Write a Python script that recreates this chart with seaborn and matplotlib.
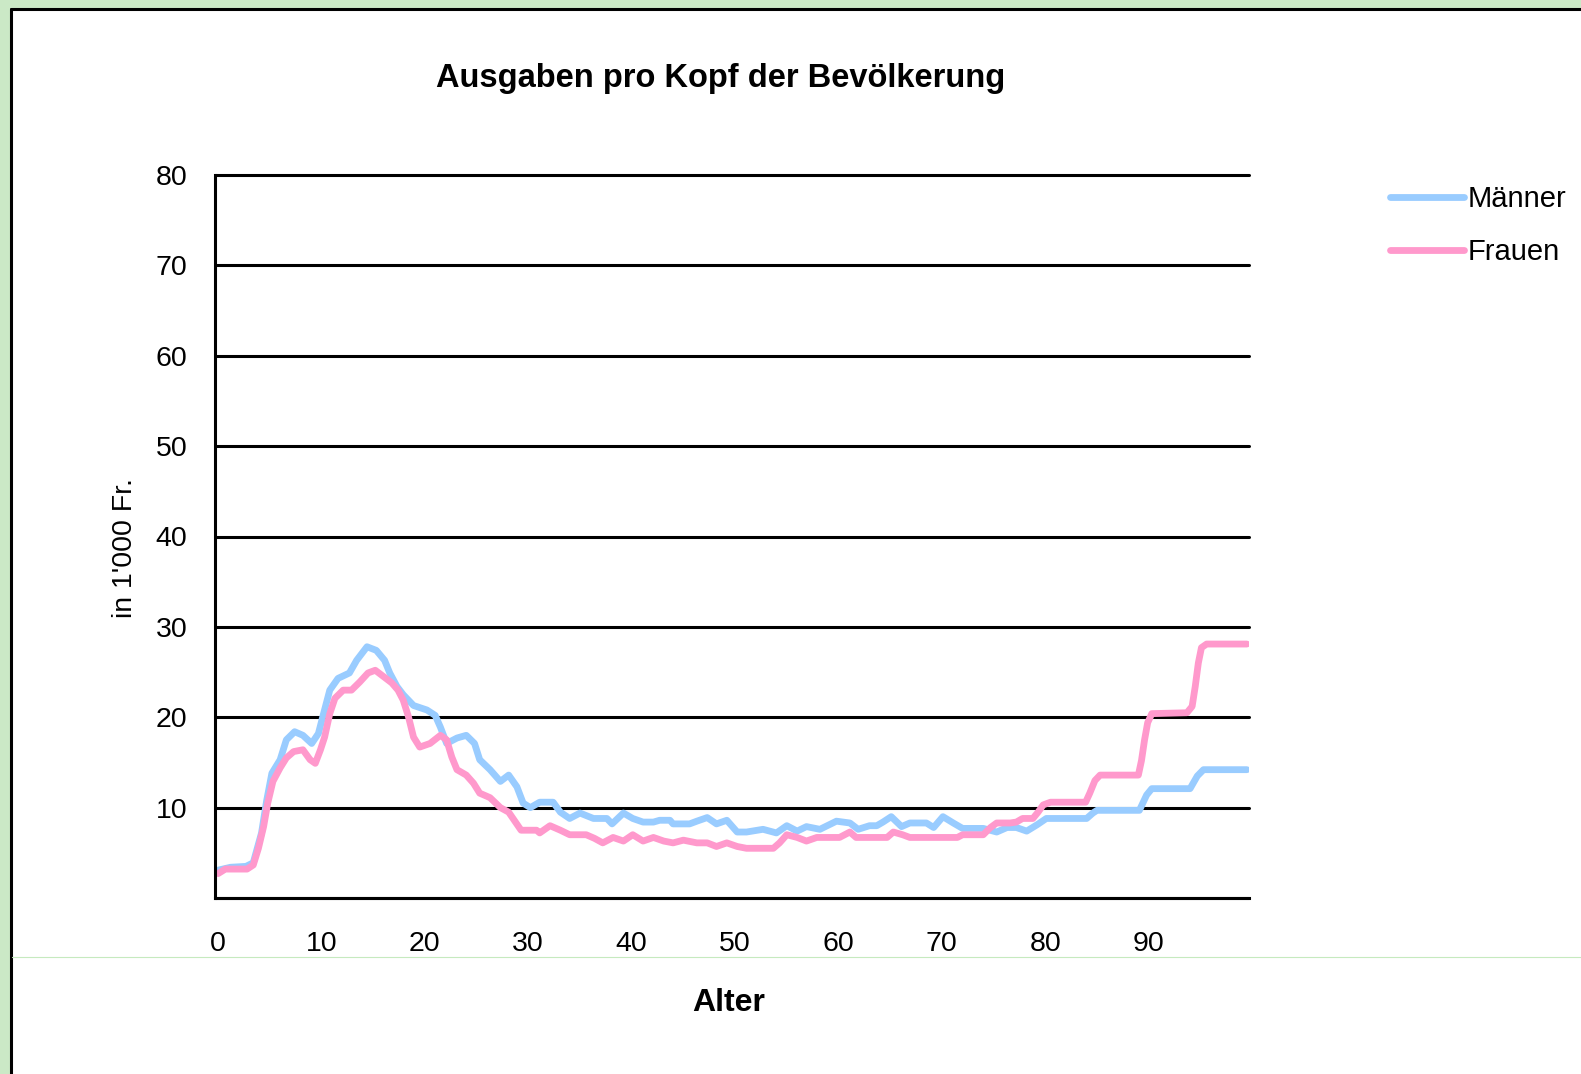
import matplotlib
matplotlib.use('Agg')
import matplotlib.pyplot as plt
from matplotlib.lines import Line2D
from matplotlib.patches import Rectangle
from matplotlib.transforms import ScaledTranslation
import pandas as pd
import seaborn as sns

# values (age, cost in 1'000 Fr.)
alter_m = [0, 1.5, 3.0, 3.7, 4.5, 5.0, 5.5, 6.3, 6.9, 7.7, 8.5, 9.35, 10.0, 10.5, 11.1, 11.9,
           13.0, 13.7, 14.7, 15.6, 16.4, 16.9, 17.6, 18.2, 19.2, 20.5, 21.3, 21.8, 22.4, 23.4,
           24.3, 25.1, 25.6, 26.6, 27.6, 28.4, 29.2, 29.8, 30.5, 31.4, 32.7, 33.4, 34.3, 35.3,
           36.6, 37.9, 38.4, 39.5, 40.4, 41.4, 42.4, 43.0, 44.0, 44.3, 45.9, 46.6, 47.6, 48.5,
           49.5, 50.5, 51.4, 53.0, 54.3, 55.3, 56.3, 57.2, 58.5, 60.1, 61.4, 62.2, 63.3, 64.0,
           64.6, 65.4, 66.4, 67.2, 68.8, 69.5, 70.4, 71.4, 72.3, 74.3, 75.6, 76.6, 77.5, 78.5,
           79.5, 80.4, 84.3, 84.9, 85.3, 89.4, 90.1, 90.6, 94.3, 95.0, 95.6, 99.8]
maenner = [3.0, 3.4, 3.5, 3.9, 7.2, 10.8, 13.8, 15.3, 17.5, 18.4, 18.0, 17.1, 18.2, 20.4, 23.0, 24.3,
           24.9, 26.3, 27.8, 27.4, 26.3, 24.9, 23.4, 22.5, 21.3, 20.8, 20.2, 18.9, 17.1, 17.7,
           18.0, 17.1, 15.3, 14.2, 12.9, 13.6, 12.3, 10.5, 10.0, 10.6, 10.6, 9.5, 8.8, 9.4,
           8.8, 8.8, 8.2, 9.4, 8.8, 8.4, 8.4, 8.6, 8.6, 8.2, 8.2, 8.5, 8.9, 8.2,
           8.6, 7.3, 7.3, 7.6, 7.2, 8.0, 7.4, 7.9, 7.6, 8.5, 8.3, 7.6, 8.0, 8.0,
           8.4, 9.0, 7.9, 8.3, 8.3, 7.8, 9.0, 8.3, 7.7, 7.7, 7.3, 7.8, 7.8, 7.4,
           8.1, 8.8, 8.8, 9.4, 9.7, 9.7, 11.4, 12.1, 12.1, 13.5, 14.2, 14.2]

alter_f = [0.3, 1.0, 3.1, 3.7, 4.2, 4.7, 5.1, 5.6, 6.3, 6.9, 7.6, 8.5, 9.2, 9.7, 10.2, 10.6,
           11.1, 11.6, 12.4, 13.2, 14.0, 14.8, 15.5, 16.3, 17.1, 17.7, 18.2, 18.7, 19.2, 19.8,
           20.8, 21.8, 22.4, 22.9, 23.4, 24.3, 25.0, 25.6, 26.6, 27.6, 28.4, 29.0, 29.6, 31.1,
           31.4, 32.4, 33.4, 34.3, 35.9, 36.7, 37.5, 38.5, 39.5, 40.4, 41.4, 42.4, 43.4, 44.3,
           45.3, 46.6, 47.6, 48.5, 49.5, 50.5, 51.4, 54.0, 54.6, 55.3, 56.3, 57.2, 58.2, 60.4,
           61.4, 62.0, 65.0, 65.6, 66.5, 67.2, 71.8, 72.3, 74.3, 75.0, 75.6, 76.9, 77.5, 78.1,
           79.1, 79.6, 80.1, 80.8, 84.2, 84.6, 85.1, 85.6, 89.3, 89.6, 89.9, 90.2, 90.6, 94.0,
           94.5, 94.8, 95.1, 95.4, 95.9, 99.8]
frauen = [2.7, 3.2, 3.2, 3.65, 5.5, 7.9, 10.5, 12.9, 14.4, 15.5, 16.2, 16.4, 15.3, 14.9, 16.4, 17.8,
          20.4, 22.1, 23.0, 23.0, 23.9, 24.9, 25.2, 24.5, 23.8, 23.0, 21.9, 20.1, 17.8, 16.7,
          17.1, 18.0, 17.5, 15.6, 14.2, 13.6, 12.7, 11.6, 11.1, 10.0, 9.5, 8.5, 7.5, 7.5,
          7.2, 8.0, 7.5, 7.0, 7.0, 6.6, 6.1, 6.7, 6.3, 7.0, 6.3, 6.7, 6.3, 6.1,
          6.4, 6.1, 6.1, 5.7, 6.1, 5.7, 5.5, 5.5, 6.1, 7.0, 6.7, 6.3, 6.7, 6.7,
          7.3, 6.7, 6.7, 7.3, 7.0, 6.7, 6.7, 7.0, 7.0, 7.8, 8.3, 8.3, 8.4, 8.8,
          8.8, 9.5, 10.3, 10.6, 10.6, 11.6, 13.0, 13.6, 13.6, 15.2, 17.5, 19.4, 20.4, 20.5,
          21.2, 23.4, 26.0, 27.7, 28.1, 28.1]

serien = ['Männer', 'Frauen']
farben = {'Männer': '#99ccff', 'Frauen': '#ff99cc'}

x_ticks = [0, 5, 10, 15, 20, 25, 30, 35, 40, 45, 50, 55, 60, 65, 70, 75, 80, 85, 90, 95, 100]
x_labels = ['0', '', '10', '', '20', '', '30', '', '40', '', '50', '', '60', '', '70', '', '80', '', '90', '', '']
y_ticks = [0, 10, 20, 30, 40, 50, 60, 70, 80]
y_labels = ['', '10', '20', '30', '40', '50', '60', '70', '80']

df = pd.concat([
    pd.DataFrame({'Alter': alter_m, 'Wert': maenner, 'Geschlecht': 'Männer'}),
    pd.DataFrame({'Alter': alter_f, 'Wert': frauen, 'Geschlecht': 'Frauen'}),
], ignore_index=True)

sns.set_style('white')
plt.rcParams['font.family'] = ['Liberation Sans', 'DejaVu Sans']
plt.rcParams['text.color'] = 'black'

W, H = 1581, 1074
fig = plt.figure(figsize=(W / 100, H / 100), dpi=100, facecolor='#cbe9c6')

# white chart area with the black frame at top and left
fig.add_artist(Rectangle((12 / W, 0), 1, 1 - 10 / H, transform=fig.transFigure,
                         facecolor='white', edgecolor='none', zorder=-2))
fig.add_artist(Line2D([11 / W, 11 / W], [0, 1 - 9 / H], transform=fig.transFigure, color='black', lw=2.2, zorder=-1))
fig.add_artist(Line2D([11 / W, 1], [1 - 9 / H, 1 - 9 / H], transform=fig.transFigure, color='black', lw=2.2, zorder=-1))
fig.add_artist(Line2D([12 / W, 1], [1 - 957 / H, 1 - 957 / H], transform=fig.transFigure, color='#c6eabf', lw=0.8, zorder=-1))

ax = fig.add_axes([215 / W, 1 - 898 / H, (1249 - 215) / W, (898 - 175) / H])
ax.set_facecolor('white')

sns.lineplot(data=df, x='Alter', y='Wert', hue='Geschlecht', hue_order=serien, palette=farben,
             estimator=None, sort=False, linewidth=4.9, legend=False, ax=ax)

ax.set_xlim(0, 100)
ax.set_ylim(0, 80)
ax.set_xticks(x_ticks)
ax.set_xticklabels(x_labels)
ax.set_yticks(y_ticks)
ax.set_yticklabels(y_labels)
ax.set_xlabel('')
ax.set_ylabel('')

ax.yaxis.grid(True, color='black', linewidth=2.2)
ax.xaxis.grid(False)
for gl in ax.get_ygridlines():
    gl.set_clip_on(False)
for side in ['top', 'right']:
    ax.spines[side].set_visible(False)
for side in ['left', 'bottom']:
    ax.spines[side].set_color('black')
    ax.spines[side].set_linewidth(2.2)
ax.tick_params(axis='both', direction='out', length=6.5, width=2.2, color='black',
               labelsize=20.5, labelcolor='black')
ax.tick_params(axis='y', pad=13.5)
ax.tick_params(axis='x', pad=17.5)
shift = ScaledTranslation(3 / 100, 0, fig.dpi_scale_trans)
for lbl in ax.get_xticklabels():
    lbl.set_transform(lbl.get_transform() + shift)

fig.text(721 / W, 1 - 87 / H, 'Ausgaben pro Kopf der Bevölkerung', ha='center', va='baseline',
         fontsize=23.5, fontweight='bold', color='black')
fig.text(729 / W, 1 - 1011 / H, 'Alter', ha='center', va='baseline', fontsize=23, fontweight='bold',
         color='black')
fig.text(125 / W, 1 - 548 / H, "in 1'000 Fr.", ha='center', va='center', rotation=90, fontsize=20.5,
         color='black')

handles = [Line2D([], [], color=farben[s], lw=4.9) for s in serien]
leg = ax.legend(handles, serien, loc='upper left', bbox_to_anchor=(1390 / W, 1 - 185 / H),
                bbox_transform=fig.transFigure, frameon=False, fontsize=21, handlelength=2.55,
                handletextpad=0.12, labelspacing=0.85, borderpad=0, borderaxespad=0)
for t in leg.get_texts():
    t.set_color('black')

fig.savefig('out.png', dpi=100, facecolor=fig.get_facecolor())
